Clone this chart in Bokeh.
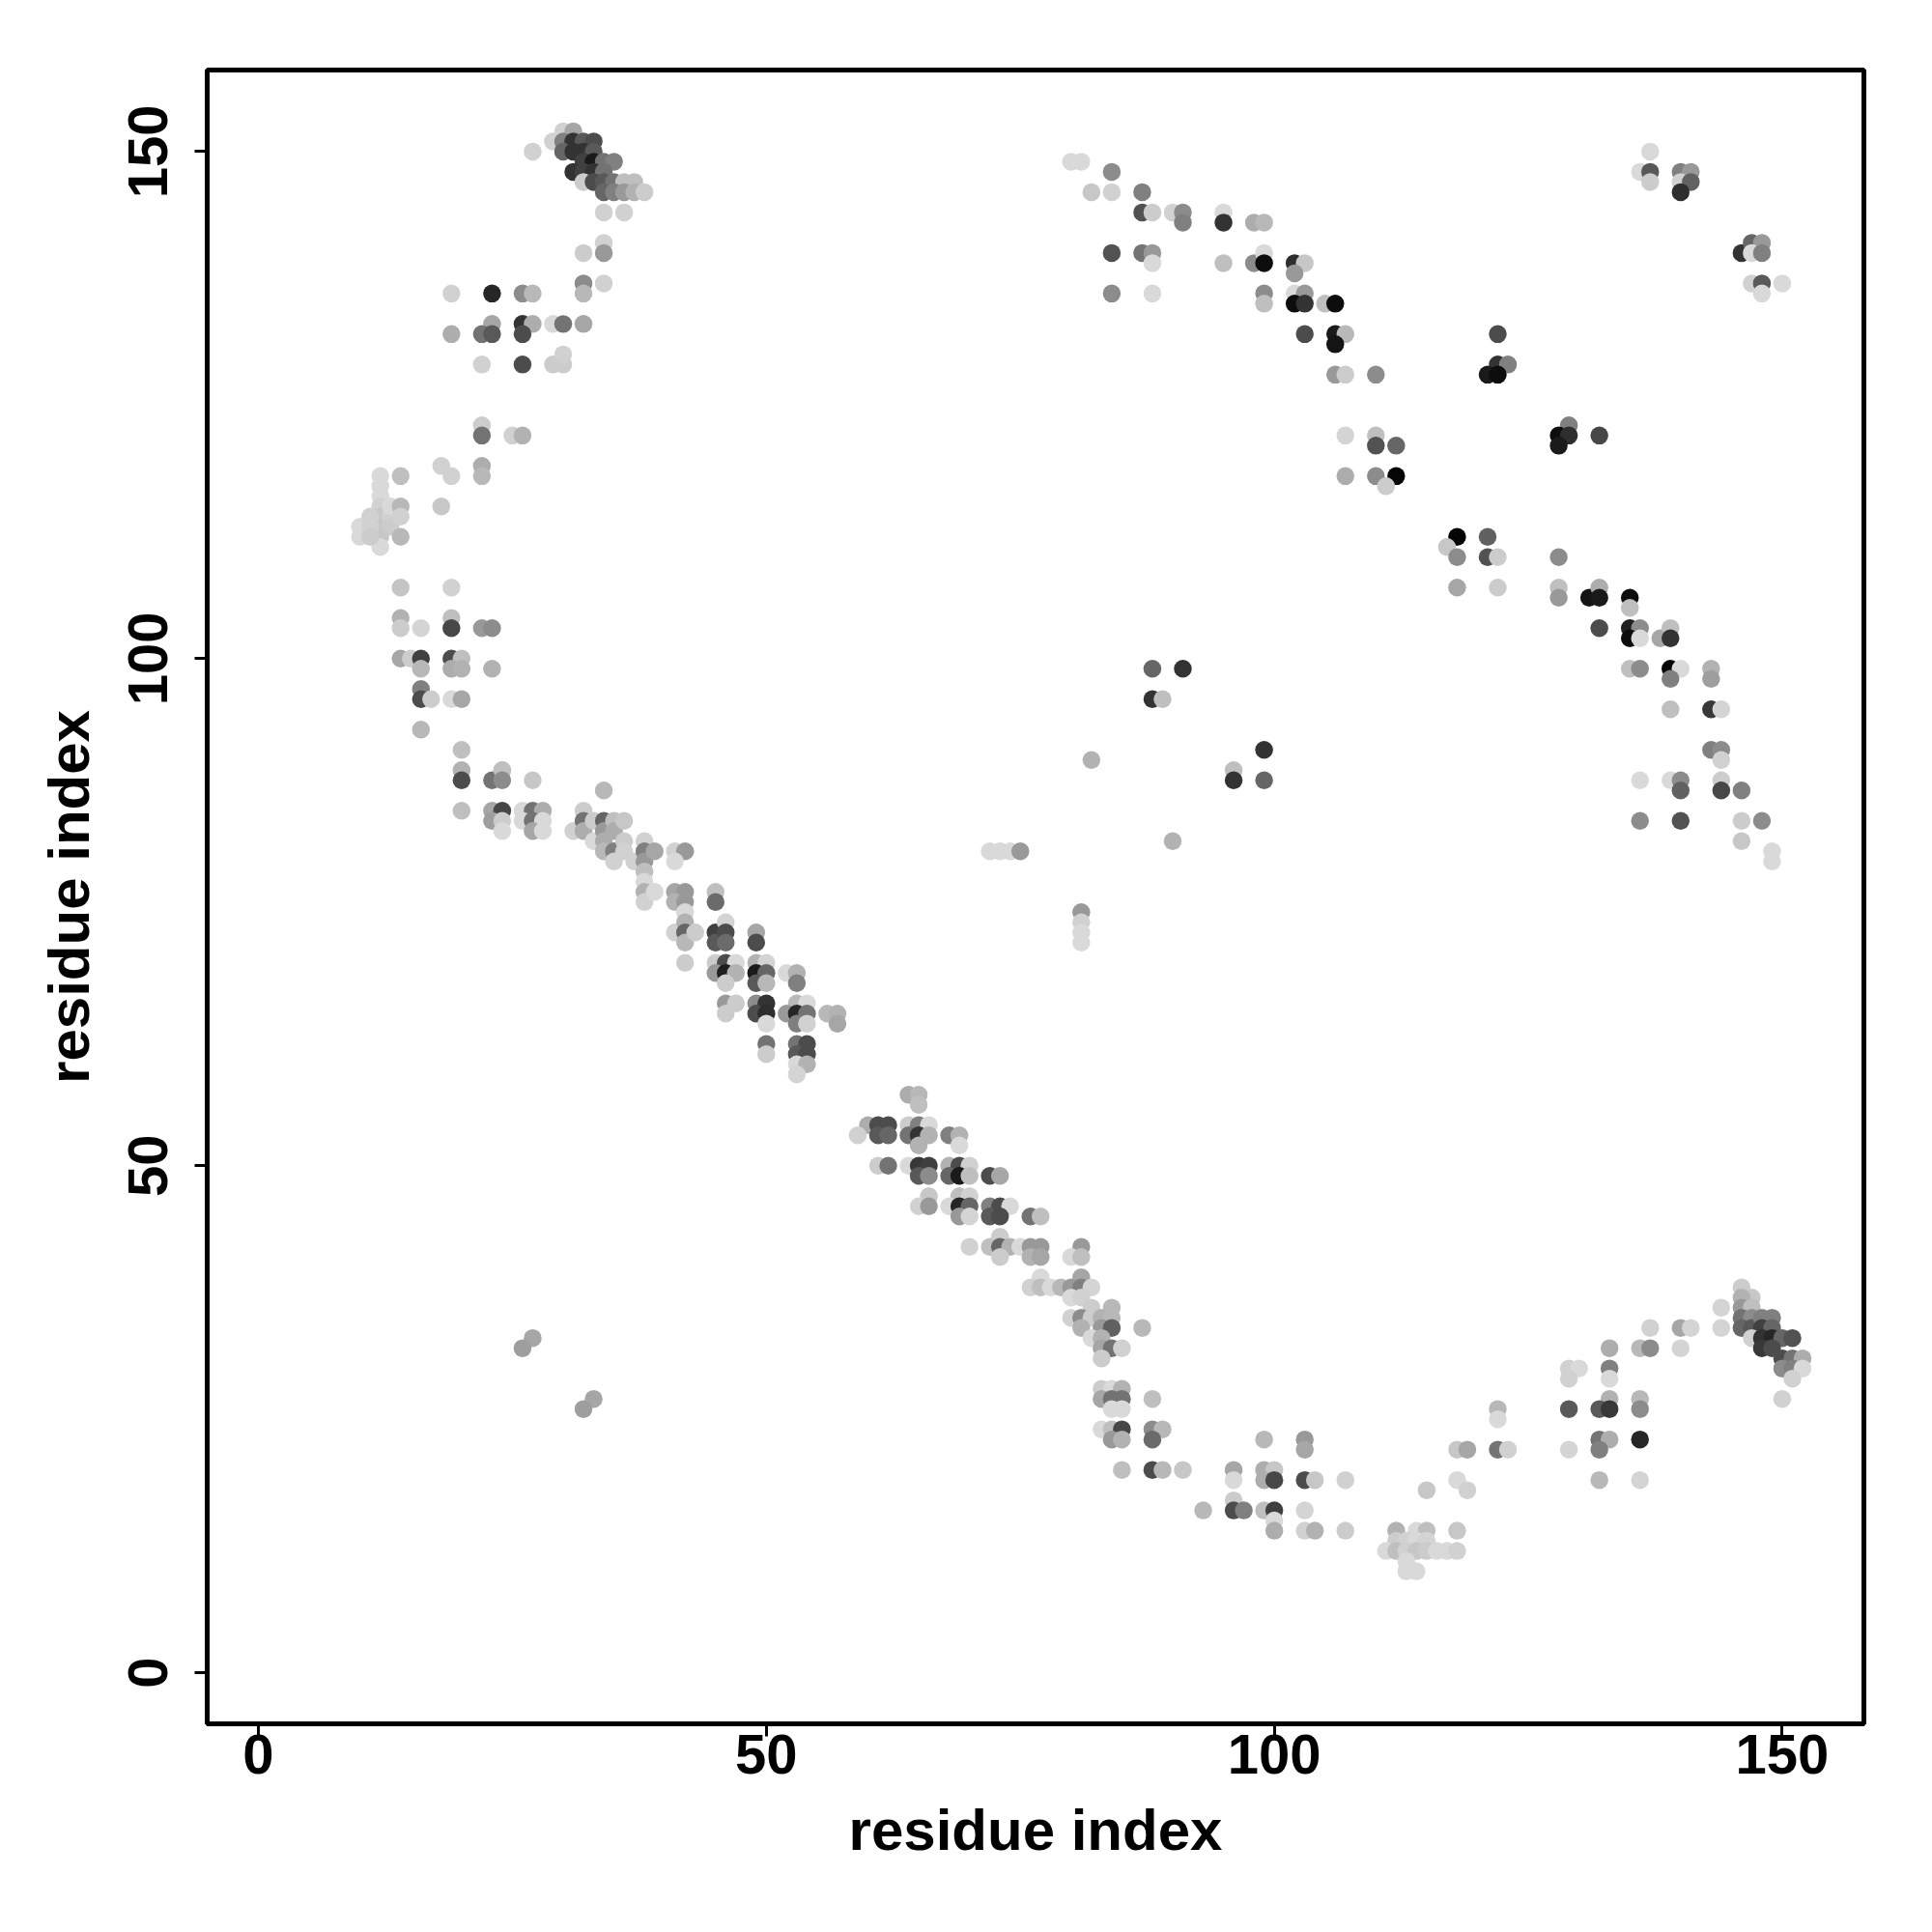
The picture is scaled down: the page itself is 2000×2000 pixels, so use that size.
from bokeh.plotting import figure
from bokeh.models import Range1d, FixedTicker, ColumnDataSource
from bokeh.embed import file_html
from bokeh.resources import INLINE

# (residue i, residue j, gray level 0=black .. 1=white)
upper_arc_top = [
    (27,150,.82),(30,152,.82),(31,152,.65),(29,151,.82),(30,151,.5),(31,151,.2),(32,151,.35),(33,151,.3),
    (30,150,.4),(31,150,.2),(32,150,.2),(33,150,.35),(32,149,.25),(33,149,.1),(34,149,.45),(35,149,.5),
    (31,148,.2),(32,148,.25),(33,148,.2),(34,148,.45),(32,147,.8),(33,147,.3),(34,147,.35),(35,147,.45),
    (36,147,.75),(37,147,.75),(34,146,.4),(35,146,.5),(36,146,.6),(37,146,.7),(38,146,.8),
    (34,144,.82),(36,144,.82),(34,141,.82),(34,140,.6),(32,140,.8),(32,137,.55),(32,136,.72),(34,137,.82),
    (19,136,.82),(23,136,.15),(26,136,.55),(27,136,.72),
    (23,133,.65),(26,133,.2),(27,133,.68),(29,133,.85),(30,133,.45),(32,133,.65),
    (19,132,.68),(22,132,.45),(23,132,.35),(26,132,.3),
    (22,129,.82),(26,129,.3),(29,129,.8),(30,129,.8),(30,130,.82),
    (22,123,.8),(22,122,.45),(25,122,.82),(26,122,.7),
]

upper_arc_low = [
    (18,119,.82),(19,118,.82),(22,119,.68),(22,118,.72),(12,118,.85),(14,118,.75),
    (12,117,.85),(12,116,.85),(12,115,.82),(12,114,.78),(12,113,.78),(12,112,.78),(12,111,.85),
    (10,113,.85),(10,112,.85),(11,113,.82),(11,112,.8),(11,114,.82),(13,114,.82),(13,115,.85),(13,113,.8),
    (14,115,.72),(14,114,.82),(14,112,.72),(18,115,.78),(14,107,.77),(19,107,.82),
    (14,104,.7),(14,103,.8),(16,103,.83),(19,104,.75),(19,103,.28),(22,103,.6),(23,103,.55),
    (14,100,.65),(15,100,.8),(16,100,.25),(19,100,.3),(20,100,.75),
    (16,99,.72),(19,99,.68),(20,99,.7),(23,99,.7),
    (16,97,.5),(16,96,.3),(17,96,.8),(19,96,.85),(20,96,.65),
    (16,93,.72),(20,91,.75),(20,89,.7),(24,89,.78),
]

diagonal_band_1 = [
    (20,88,.3),(23,88,.45),(24,89,.75),(24,88,.55),(27,88,.78),(34,87,.72),
    (20,85,.75),(23,85,.65),(24,85,.28),(26,85,.85),(27,85,.45),(28,85,.68),
    (23,84,.62),(24,84,.8),(26,84,.85),(27,84,.45),(28,84,.85),(24,83,.85),(27,83,.65),(28,83,.85),
    (31,83,.82),(32,85,.8),(32,84,.45),(32,83,.68),(33,84,.8),(33,82,.85),
    (34,84,.4),(34,83,.6),(34,82,.68),(34,81,.72),(35,84,.75),(35,83,.68),(35,81,.5),(35,80,.82),
    (36,84,.78),(36,82,.8),(36,81,.82),(37,80,.82),
    (38,82,.82),(38,81,.5),(38,80,.6),(38,79,.75),(38,78,.85),(38,77,.7),(38,76,.82),
    (39,81,.65),(39,77,.85),(41,81,.82),(42,81,.6),(41,80,.85),
    (41,77,.65),(42,77,.6),(41,76,.7),(42,76,.6),(42,75,.85),(45,77,.75),(45,76,.42),
    (41,73,.82),(42,74,.7),(42,73,.4),(42,72,.72),(43,73,.8),(42,70,.8),
    (45,73,.25),(45,72,.35),(46,74,.83),(46,73,.3),(46,72,.42),(49,73,.65),(49,72,.3),
    (45,70,.8),(46,70,.3),(47,70,.85),(49,70,.7),(50,70,.83),
    (45,69,.6),(46,69,.12),(47,69,.7),(49,69,.1),(50,69,.4),(52,69,.85),(53,69,.7),
    (46,68,.8),(49,68,.35),(50,68,.72),(53,68,.5),
    (46,66,.6),(47,66,.8),(49,66,.55),(50,66,.2),(53,66,.72),(54,66,.85),
    (46,65,.8),(49,65,.3),(50,65,.18),(52,65,.6),(53,65,.15),(54,65,.45),(56,65,.72),(57,65,.7),
    (50,64,.85),(53,64,.5),(54,64,.82),(57,64,.65),
    (50,62,.45),(50,61,.8),(53,62,.45),(54,62,.3),(53,61,.35),(54,61,.3),(53,60,.85),(54,60,.7),(53,59,.83),
]

diagonal_band_2 = [
    (64,57,.68),(65,57,.72),(65,56,.75),
    (60,54,.68),(61,54,.3),(62,54,.3),(64,54,.8),(65,54,.5),(66,54,.85),
    (59,53,.82),(61,53,.35),(62,53,.4),(64,53,.45),(65,53,.2),(66,53,.7),(68,53,.5),(69,53,.7),
    (65,52,.7),(69,52,.85),
    (61,50,.8),(62,50,.45),(64,50,.85),(65,50,.22),(66,50,.25),(68,50,.7),(69,50,.3),(70,50,.82),
    (65,49,.35),(66,49,.55),(68,49,.4),(69,49,.1),(70,49,.75),(72,49,.3),(73,49,.65),
    (69,47,.75),(70,47,.82),(66,47,.78),(65,46,.82),(66,46,.6),
    (68,46,.85),(69,46,.15),(70,46,.4),(72,46,.5),(73,46,.3),(74,46,.85),
    (69,45,.6),(70,45,.83),(72,45,.35),(73,45,.3),(76,45,.45),(77,45,.75),
    (70,42,.82),(72,42,.75),(73,43,.8),(73,42,.4),(74,42,.7),(75,42,.85),(76,42,.6),(77,42,.6),
    (73,41,.8),(76,41,.7),(77,41,.65),(81,42,.6),(80,41,.85),(81,41,.75),
    (77,39,.85),(81,39,.65),
    (76,38,.82),(77,38,.75),(78,38,.85),(79,38,.72),(80,38,.6),(81,38,.5),(82,38,.83),
    (80,37,.85),(81,37,.82),(82,36,.8),(84,36,.72),
    (80,35,.82),(81,35,.55),(82,35,.8),(83,35,.7),(84,35,.72),
    (81,34,.7),(83,34,.6),(84,34,.38),(87,34,.72),(82,33,.85),(83,33,.7),
    (83,32,.65),(84,32,.45),(85,32,.82),(83,31,.8),
    (83,28,.8),(84,28,.85),(85,28,.7),(88,27,.75),(83,27,.65),(84,27,.45),(85,27,.45),
    (84,26,.85),(85,26,.85),
    (83,24,.85),(84,24,.75),(85,24,.28),(88,24,.55),(89,24,.72),(84,23,.6),(85,23,.7),(88,23,.42),
]

lower_arc = [
    (85,20,.75),(88,20,.3),(89,20,.72),(91,20,.78),
    (99,23,.72),(103,23,.6),(103,22,.65),
    (96,20,.65),(96,19,.85),(99,20,.68),(100,20,.78),(99,19,.68),(100,19,.28),(103,19,.3),(104,19,.78),(107,19,.82),
    (115,18,.78),
    (93,16,.72),(96,17,.8),(96,16,.3),(97,16,.5),(99,16,.75),(100,16,.25),(103,16,.83),
    (100,15,.85),(100,14,.68),(103,14,.82),(104,14,.7),(107,14,.8),
    (112,14,.7),(114,14,.85),(115,14,.75),(118,14,.78),
    (112,13,.8),(113,13,.82),(114,13,.85),(115,13,.83),
    (111,12,.85),(112,12,.75),(113,12,.82),(114,12,.78),(115,12,.8),(116,12,.85),(117,12,.85),(118,12,.82),
    (113,11,.85),(113,10,.85),(114,10,.85),
    (118,22,.78),(119,22,.65),(118,19,.85),(119,18,.82),
    (122,26,.72),(122,25,.85),(122,22,.45),(123,22,.82),
    (129,30,.82),(130,30,.85),(129,29,.82),(129,26,.35),(129,22,.83),
    (133,32,.68),(133,30,.5),(133,29,.85),(133,27,.7),(132,26,.35),(133,26,.22),
    (132,23,.45),(133,23,.68),(132,22,.5),(132,19,.72),
    (136,27,.72),(136,26,.55),(136,23,.15),(136,19,.83),
    (136,32,.72),(137,32,.55),(137,34,.82),(140,34,.65),(141,34,.83),(140,32,.83),
    (144,36,.83),(144,34,.83),
    (146,38,.8),(147,37,.78),(146,37,.7),(146,36,.6),(147,36,.75),(146,35,.45),(147,35,.55),
    (146,34,.4),(147,34,.35),(148,35,.5),(149,35,.5),(148,34,.25),(149,34,.4),
    (147,33,.82),(148,33,.2),(149,33,.15),(150,33,.4),(151,33,.32),(148,32,.22),(149,32,.3),
    (150,31,.3),(151,31,.45),(152,31,.68),(150,30,.55),(151,30,.5),(152,30,.85),(151,29,.82),(150,27,.82),
]

upper_right = [
    (80,149,.85),(81,149,.85),(84,148,.55),(82,146,.78),(84,146,.82),(87,146,.5),
    (87,144,.32),(88,144,.8),(90,144,.82),(91,144,.55),(91,143,.5),(95,144,.85),(95,143,.2),(98,143,.68),(99,143,.72),
    (84,140,.32),(87,140,.45),(88,140,.6),(88,139,.85),(95,139,.75),(98,139,.55),(99,140,.85),(99,139,.05),
    (102,139,.18),(103,139,.78),(102,138,.6),
    (84,136,.55),(88,136,.85),(99,136,.55),(99,135,.75),(102,136,.85),(103,136,.6),(102,135,.05),(103,135,.2),
    (105,135,.75),(106,135,.05),
    (103,132,.3),(106,132,.1),(107,132,.72),(106,131,.08),
    (106,128,.6),(107,128,.8),(110,128,.55),
    (107,122,.83),(110,122,.75),(110,121,.32),(112,121,.4),
    (107,118,.68),(110,118,.55),(112,118,.02),(111,117,.8),
    (137,150,.85),(136,148,.85),(137,148,.35),(137,147,.8),
    (140,148,.5),(141,148,.6),(140,147,.82),(141,147,.38),(140,146,.18),
    (146,140,.2),(147,141,.4),(148,141,.6),(147,140,.85),(148,140,.5),
    (147,137,.82),(148,137,.35),(148,136,.85),(150,137,.85),
    (122,132,.3),(122,129,.2),(123,129,.5),(121,128,.1),(122,128,.05),
    (129,123,.5),(128,122,.05),(129,122,.18),(128,121,.1),(132,122,.28),
    (118,112,.02),(121,112,.38),(117,111,.78),(118,110,.55),(121,110,.32),(122,110,.8),(128,110,.55),
    (118,107,.65),(122,107,.8),(128,107,.75),(128,106,.6),
    (131,106,.08),(132,107,.68),(132,106,.1),(135,106,.05),(135,105,.75),
    (132,103,.3),(135,103,.12),(136,103,.55),(135,102,.05),(136,102,.85),(138,102,.65),(139,103,.75),(139,102,.2),
    (135,99,.75),(136,99,.55),(139,99,.02),(140,99,.85),(139,98,.5),(143,99,.7),(143,98,.62),
    (139,95,.75),(143,95,.22),(144,95,.83),
    (143,91,.5),(144,91,.55),(144,90,.82),
    (136,88,.85),(139,88,.85),(140,88,.55),(144,88,.8),(140,87,.38),(144,87,.28),(146,87,.5),
    (136,84,.55),(140,84,.32),(146,84,.8),(148,84,.55),
    (146,82,.78),(149,81,.85),(149,80,.85),
]

scattered = [
    (88,99,.4),(91,99,.2),(88,96,.2),(89,96,.75),(82,90,.7),
    (99,91,.2),(96,89,.75),(96,88,.2),(99,88,.4),(90,82,.7),
    (72,81,.85),(73,81,.85),(74,81,.85),(75,81,.6),
    (81,75,.6),(81,74,.82),(81,73,.85),(81,72,.85),
    (27,33,.65),(26,32,.62),(33,27,.65),(32,26,.62),
]

tick_values = [0, 50, 100, 150]
axis_title = "residue index"

all_contacts = upper_arc_top + upper_arc_low + diagonal_band_1 + diagonal_band_2 + lower_arc + upper_right + scattered
xs = [c[0] for c in all_contacts]
ys = [c[1] for c in all_contacts]
colors = ["#%02x%02x%02x" % ((int(round(c[2] * 255)),) * 3) for c in all_contacts]
src = ColumnDataSource(dict(x=xs, y=ys, color=colors))

p = figure(output_backend="svg", toolbar_location=None,
           frame_width=1715, frame_height=1712,
           min_border_left=214, min_border_right=56, min_border_top=72, min_border_bottom=200,
           x_range=Range1d(-5.04, 158.04), y_range=Range1d(-5.04, 158.04))
p.background_fill_color = "white"
p.border_fill_color = "white"
p.xgrid.visible = False
p.ygrid.visible = False
p.outline_line_color = "black"
p.outline_line_width = 5

p.scatter("x", "y", source=src, size=18.5, fill_color="color", line_color=None, marker="circle")

for ax in (p.xaxis[0], p.yaxis[0]):
    ax.ticker = FixedTicker(ticks=tick_values)
    ax.axis_line_color = None
    ax.major_tick_in = 0
    ax.major_tick_out = 13
    ax.major_tick_line_width = 3
    ax.minor_tick_line_color = None
    ax.major_label_text_font = "Liberation Sans"
    ax.major_label_text_font_style = "bold"
    ax.major_label_text_font_size = "58px"
    ax.major_label_text_color = "black"
    ax.axis_label = axis_title
    ax.axis_label_text_font = "Liberation Sans"
    ax.axis_label_text_font_style = "bold"
    ax.axis_label_text_font_size = "60px"
    ax.axis_label_text_color = "black"

p.xaxis[0].major_label_standoff = -2
p.xaxis[0].axis_label_standoff = 22
p.yaxis[0].major_label_orientation = "vertical"
p.yaxis[0].major_label_standoff = 28
p.yaxis[0].axis_label_standoff = 26

open("out.html", "w").write(file_html(p, INLINE))
